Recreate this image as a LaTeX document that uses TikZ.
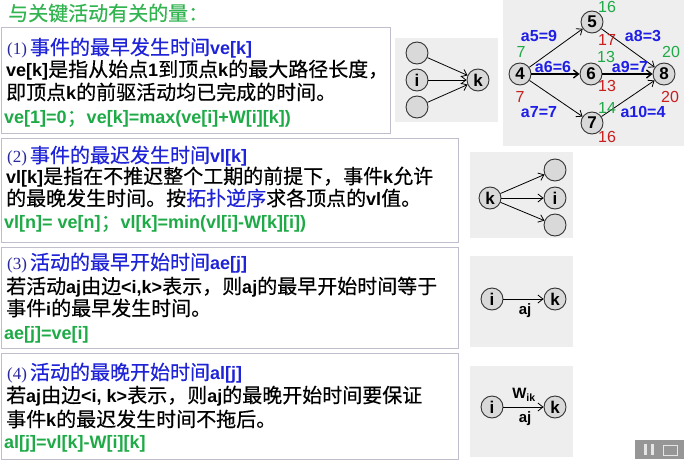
\documentclass[tikz,border=0pt]{standalone}
\usepackage{fontspec}
\setmainfont{Noto Sans CJK SC}[FakeBold=0.4]
\newfontfamily\latf{Liberation Sans}
\newfontfamily\serf{Liberation Serif}
\usetikzlibrary{arrows.meta}
\definecolor{hblue}{RGB}{30,35,215}
\definecolor{pblue}{RGB}{40,40,160}
\definecolor{tgreen}{RGB}{50,180,80}
\definecolor{fgreen}{RGB}{30,170,70}
\definecolor{gred}{RGB}{200,30,30}
\definecolor{gblue}{RGB}{30,30,230}
\definecolor{boxc}{RGB}{190,190,205}
\definecolor{bgc}{RGB}{238,238,238}
\definecolor{nodef}{RGB}{217,217,217}
\definecolor{nodeb}{RGB}{50,50,50}
\definecolor{ctrlc}{RGB}{150,150,150}
\newcommand\lb[1]{{\latf\bfseries\fontsize{18}{20}\selectfont #1}}
\newcommand\pnum[1]{{\color{pblue}\serf\fontsize{17}{20}\selectfont #1}\hspace{3pt}}
\begin{document}
\begin{tikzpicture}[x=1pt,y=-1pt,
  txt/.style={anchor=west, inner sep=0pt, text height=17.6pt, text depth=2.4pt, font=\fontsize{20}{24}\selectfont},
  boxs/.style={draw=boxc, line width=1pt, fill=white},
  gn/.style={circle, draw=nodeb, line width=0.9pt, fill=nodef, minimum size=22pt, inner sep=0pt, font=\latf\bfseries\fontsize{17}{17}\selectfont},
  arr/.style={-{Straight Barb[length=5pt,width=8pt]}, line width=0.8pt, black},
  glab/.style={inner sep=0pt, font=\latf\bfseries\fontsize{16}{16}\selectfont, text=gblue},
  gnum/.style={inner sep=0pt, font=\latf\fontsize{16}{16}\selectfont},
  elab/.style={inner sep=0pt, font=\latf\bfseries\fontsize{15}{15}\selectfont}]
\useasboundingbox (0,0) rectangle (684,460);
\fill[white] (0,0) rectangle (684,460);

% title
\node[txt, text=tgreen] (title) at (8,13) {与关键活动有关的量：};

% boxes
\draw[boxs] (1.5,28) rectangle (390,133);
\draw[boxs] (1.5,138) rectangle (458,242);
\draw[boxs] (1.5,247) rectangle (458,348);
\draw[boxs] (1.5,353) rectangle (458,459);

% box 1
\node[txt, text=hblue] (t1a) at (7,47) {\pnum{(1)}事件的最早发生时间\lb{ve[k]}};
\node[txt] (t1b) at (6,69) {\lb{ve[k]}是指从始点\lb{1}到顶点\lb{k}的最大路径长度，};
\node[txt] (t1c) at (6,92) {即顶点\lb{k}的前驱活动均已完成的时间。};
\node[txt, text=fgreen] (t1d) at (4,116) {\lb{ve[1]=0}；\lb{ve[k]=max(ve[i]+W[i][k])}};

% box 2
\node[txt, text=hblue] (t2a) at (7,155) {\pnum{(2)}事件的最迟发生时间\lb{vl[k]}};
\node[txt] (t2b) at (6,176) {\lb{vl[k]}是指在不推迟整个工期的前提下，事件\lb{k}允许};
\node[txt] (t2c) at (6,198) {的最晚发生时间。按{\color{hblue}拓扑逆序}求各顶点的\lb{vl}值。};
\node[txt, text=fgreen] (t2d) at (4,221) {\lb{vl[n]= ve[n]}；\lb{vl[k]=min(vl[i]-W[k][i])}};

% box 3
\node[txt, text=hblue] (t3a) at (7,262) {\pnum{(3)}活动的最早开始时间\lb{ae[j]}};
\node[txt] (t3b) at (6,286) {若活动\lb{aj}由边\lb{<i,k>}表示，则\lb{aj}的最早开始时间等于};
\node[txt] (t3c) at (6,308) {事件\lb{i}的最早发生时间。};
\node[txt, text=fgreen] (t3d) at (4,332) {\lb{ae[j]=ve[i]}};

% box 4
\node[txt, text=hblue] (t4a) at (7,372) {\pnum{(4)}活动的最晚开始时间\lb{al[j]}};
\node[txt] (t4b) at (6,395) {若\lb{aj}由边\lb{<i, k>}表示，则\lb{aj}的最晚开始时间要保证};
\node[txt] (t4c) at (6,419) {事件\lb{k}的最迟发生时间不拖后。};
\node[txt, text=fgreen] (t4d) at (4,441) {\lb{al[j]=vl[k]-W[i][k]}};

% gray backgrounds
\fill[bgc] (395,38) rectangle (498,122);
\fill[bgc] (503,0) rectangle (684,146);
\fill[bgc] (470,152) rectangle (573,238);
\fill[bgc] (470,256) rectangle (573,347);
\fill[bgc] (470,366) rectangle (573,457);

% diagram 1
\node[gn] (d1a) at (417,53) {};
\node[gn] (d1i) at (417,80) {i};
\node[gn] (d1b) at (417,107) {};
\node[gn] (d1k) at (478,80) {k};
\draw[arr] (d1a) -- (d1k);
\draw[arr] (d1i) -- (d1k);
\draw[arr] (d1b) -- (d1k);

% diagram 2
\node[gn] (d2k) at (490,198) {k};
\node[gn] (d2a) at (555,170) {};
\node[gn] (d2i) at (555,198) {i};
\node[gn] (d2b) at (555,225) {};
\draw[arr] (d2k) -- (d2a);
\draw[arr] (d2k) -- (d2i);
\draw[arr] (d2k) -- (d2b);

% diagram 3
\node[gn] (d3i) at (492,299) {i};
\node[gn] (d3k) at (555,299) {k};
\draw[arr] (d3i) -- (d3k);
\node[elab] (d3l) at (525,311) {aj};

% diagram 4
\node[gn] (d4i) at (492,407) {i};
\node[gn] (d4k) at (555,407) {k};
\draw[arr] (d4i) -- (d4k);
\node[elab] (d4w) at (524,395) {W\textsubscript{ik}};
\node[elab] (d4l) at (525,419) {aj};

% main graph
\node[gn] (n4) at (520,74) {4};
\node[gn] (n5) at (592,22) {5};
\node[gn] (n6) at (591,74) {6};
\node[gn] (n7) at (592,123) {7};
\node[gn] (n8) at (664,74) {8};
\draw[arr] (n4) -- (n5);
\draw[arr, line width=1.4pt] (n4) -- (n6);
\draw[arr] (n4) -- (n7);
\draw[arr] (n5) -- (n8);
\draw[arr, line width=1.4pt] (n6) -- (n8);
\draw[arr] (n7) -- (n8);

\node[gnum, text=fgreen] (g16) at (607,7) {16};
\node[gnum, text=gred] (r17) at (607,40) {17};
\node[glab] (la5) at (539,36) {a5=9};
\node[gnum, text=fgreen] (g7) at (521,52) {7};
\node[glab] (la6) at (553,67) {a6=6};
\node[gnum, text=fgreen] (g13) at (606,57) {13};
\node[glab] (la9) at (630,67) {a9=7};
\node[gnum, text=gred] (r13) at (607,86) {13};
\node[gnum, text=gred] (r7) at (520,97) {7};
\node[glab] (la7) at (539,112) {a7=7};
\node[gnum, text=fgreen] (g14) at (607,108) {14};
\node[glab] (la10) at (643,112) {a10=4};
\node[gnum, text=gred] (r16) at (607,137) {16};
\node[glab] (la8) at (643,36) {a8=3};
\node[gnum, text=fgreen] (g20) at (671,52) {20};
\node[gnum, text=gred] (r20) at (670,97) {20};

% video control
\fill[ctrlc] (635,440) rectangle (684,459);
\fill[white!75!ctrlc] (644,444) rectangle (647,455);
\fill[white!75!ctrlc] (651,444) rectangle (654,455);
\draw[white!75!ctrlc, line width=1pt] (663,445) rectangle (677,455);
\end{tikzpicture}
\end{document}
